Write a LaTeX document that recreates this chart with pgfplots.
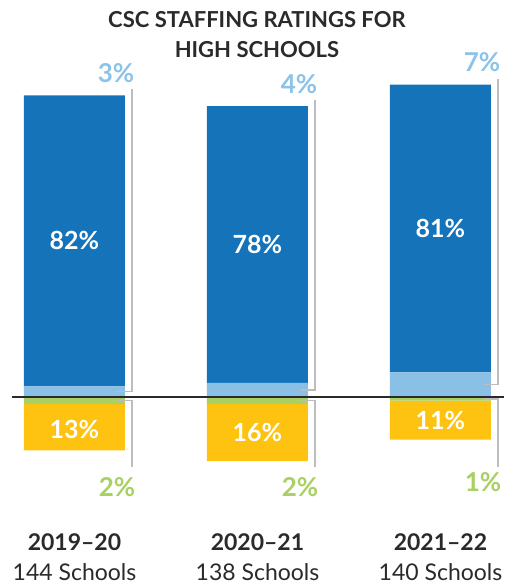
\documentclass[border=0pt]{standalone}
\usepackage{pgfplots}
\pgfplotsset{compat=1.18}
\usepackage{fontspec}
\setmainfont{Lato}
\definecolor{dblue}{HTML}{1473B9}
\definecolor{lblue}{HTML}{8BC0E6}
\definecolor{lbluetxt}{HTML}{8CC3E9}
\definecolor{lgreen}{HTML}{A8D063}
\definecolor{gold}{HTML}{FEC210}
\definecolor{brk}{HTML}{BDBDBD}
\definecolor{titlec}{HTML}{2A2A2A}
\tikzset{brkline/.style={brk,line width=1.3pt},
  outl/.style={inner sep=0pt,font=\fontsize{26}{30}\selectfont\bfseries},
  inl/.style={text=white,font=\fontsize{25}{30}\selectfont\bfseries},
  yrl/.style={text=titlec,font=\fontsize{23}{28}\selectfont\bfseries},
  scl/.style={text=titlec,font=\fontsize{23}{28}\selectfont}}
\begin{document}
\begin{tikzpicture}
\useasboundingbox (0,0) rectangle (504pt,586pt);
\pgfplotsset{base/.style={x=183pt,y=3.55pt,xmin=-0.407,xmax=2.347,ymin=-53.2,ymax=111.85,
  hide axis,clip=false}}
% positive stack
\begin{axis}[base,ybar stacked,bar width=101pt]
\addplot[fill=lblue,draw=none] coordinates {(0,3) (1,4) (2,7)};
\addplot[fill=dblue,draw=none] coordinates {(0,82) (1,78) (2,81)};
\end{axis}
% negative stack
\begin{axis}[base,ybar stacked,bar width=101pt]
\addplot[fill=lgreen,draw=none] coordinates {(0,-2) (1,-2) (2,-1)};
\addplot[fill=gold,draw=none] coordinates {(0,-13) (1,-16) (2,-11)};
\end{axis}
% annotations
\begin{axis}[base]
% zero line
\draw[color=titlec,line width=1.4pt] (axis cs:-0.342,0) -- (axis cs:2.347,0);
% brackets top
\draw[brkline] ([xshift=43.5pt]axis cs:0,1.5) -- ([xshift=57.5pt]axis cs:0,1.5) -- ([xshift=57.5pt]axis cs:0,86.7);
\draw[brkline] ([xshift=43.5pt]axis cs:1,2) -- ([xshift=57.5pt]axis cs:1,2) -- ([xshift=57.5pt]axis cs:1,83.7);
\draw[brkline] ([xshift=43.5pt]axis cs:2,3.5) -- ([xshift=57.5pt]axis cs:2,3.5) -- ([xshift=57.5pt]axis cs:2,89.7);
\node[outl,anchor=south east,text=lbluetxt] at ([xshift=60pt]axis cs:0,88.5) {3\%};
\node[outl,anchor=south east,text=lbluetxt] at ([xshift=60pt]axis cs:1,85.5) {4\%};
\node[outl,anchor=south east,text=lbluetxt] at ([xshift=60pt]axis cs:2,91.5) {7\%};
% brackets bottom
\draw[brkline] ([xshift=43.5pt]axis cs:0,-1) -- ([xshift=57.5pt]axis cs:0,-1) -- ([xshift=57.5pt]axis cs:0,-19.7);
\draw[brkline] ([xshift=43.5pt]axis cs:1,-1) -- ([xshift=57.5pt]axis cs:1,-1) -- ([xshift=57.5pt]axis cs:1,-19.7);
\draw[brkline] ([xshift=43.5pt]axis cs:2,-0.5) -- ([xshift=57.5pt]axis cs:2,-0.5) -- ([xshift=57.5pt]axis cs:2,-19.7);
\node[outl,anchor=north east,text=lgreen] at ([xshift=61pt]axis cs:0,-22.5) {2\%};
\node[outl,anchor=north east,text=lgreen] at ([xshift=61pt]axis cs:1,-22.5) {2\%};
\node[outl,anchor=north east,text=lgreen] at ([xshift=61pt]axis cs:2,-21.3) {1\%};
% inside labels
\node[inl] at (axis cs:0,44) {82\%};
\node[inl] at (axis cs:1,43) {78\%};
\node[inl] at (axis cs:2,47.5) {81\%};
\node[inl] at (axis cs:0,-9) {13\%};
\node[inl] at (axis cs:1,-10) {16\%};
\node[inl] at (axis cs:2,-6.5) {11\%};
% title
\node[align=center,text=titlec,font=\fontsize{22}{30}\selectfont\bfseries] at (axis cs:0.997,102.25) {CSC STAFFING RATINGS FOR\\HIGH SCHOOLS};
% category labels
\node[yrl] at (axis cs:0,-40.8) {2019--20};
\node[yrl] at (axis cs:1,-40.8) {2020--21};
\node[yrl] at (axis cs:2,-40.8) {2021--22};
\node[scl] at (axis cs:0,-49.3) {144 Schools};
\node[scl] at (axis cs:1,-49.3) {138 Schools};
\node[scl] at (axis cs:2,-49.3) {140 Schools};
\end{axis}
\end{tikzpicture}
\end{document}
